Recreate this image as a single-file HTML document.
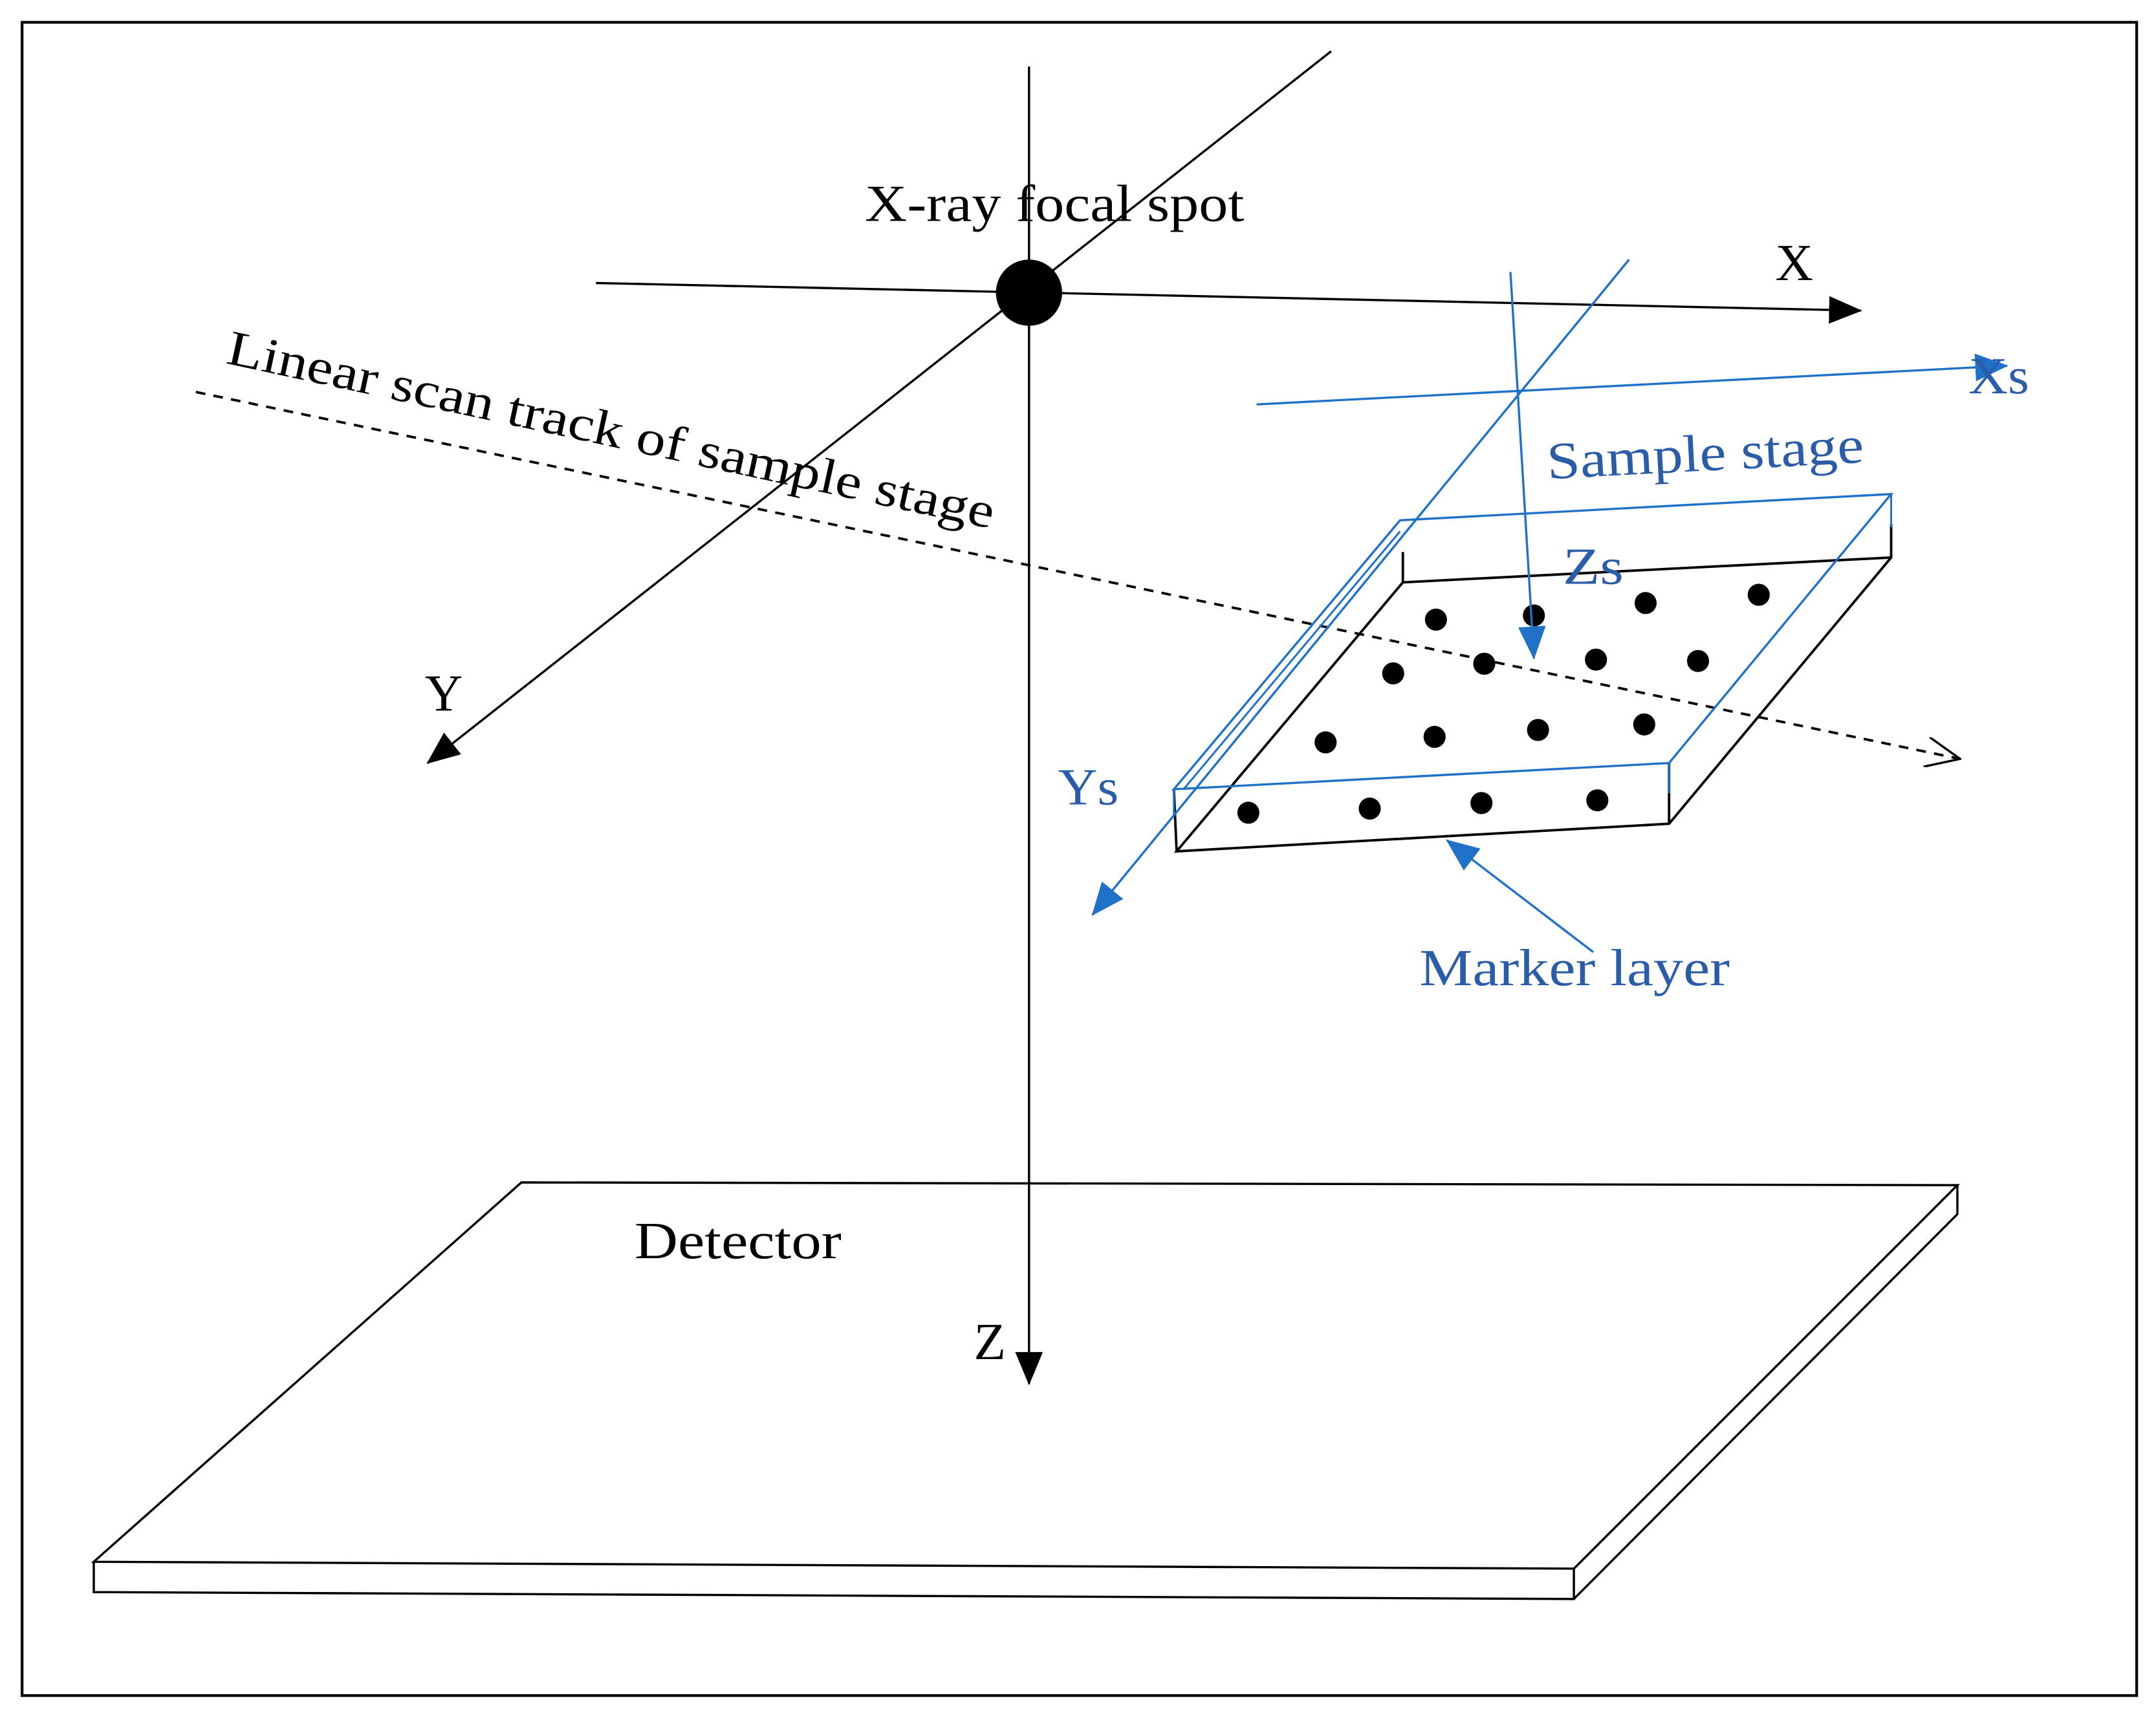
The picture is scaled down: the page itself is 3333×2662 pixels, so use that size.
<!DOCTYPE html>
<html><head><meta charset="utf-8"><style>
html,body{margin:0;padding:0;background:#fff}
svg{display:block}
text{font-family:"Liberation Serif",serif}
</style></head><body>
<svg width="3333" height="2662" viewBox="0 0 1563 1248" xmlns="http://www.w3.org/2000/svg">
<defs>
<marker id="abig" markerWidth="24" markerHeight="20" refX="23" refY="10" orient="auto" markerUnits="userSpaceOnUse" viewBox="0 0 24 20"><path d="M0,0 L24,10 L0,20 z" fill="#000"/></marker>
<marker id="aopen" markerWidth="26" markerHeight="22" refX="25" refY="11" orient="auto" markerUnits="userSpaceOnUse" viewBox="0 0 26 22"><path d="M0,0 L25,11 L0,22" fill="none" stroke="#000" stroke-width="1.6"/></marker>
<marker id="bl" markerWidth="24" markerHeight="20" refX="23" refY="10" orient="auto" markerUnits="userSpaceOnUse" viewBox="0 0 24 20"><path d="M0,0 L24,10 L0,20 z" fill="#1f72c8"/></marker>
</defs>
<rect x="16" y="16" width="1533" height="1213" fill="none" stroke="#000" stroke-width="2"/>
<polygon points="378,857 1419,859 1141,1137 68,1132" fill="#fff" stroke="#000" stroke-width="1.6"/>
<path d="M68,1132 L68,1154 L1141,1159 L1141,1137 M1141,1159 L1419,880 L1419,859" fill="none" stroke="#000" stroke-width="1.6"/>
<line x1="746" y1="48" x2="746" y2="1003" stroke="#000" stroke-width="1.6" marker-end="url(#abig)"/>
<line x1="432" y1="205" x2="1349" y2="225" stroke="#000" stroke-width="1.6" marker-end="url(#abig)"/>
<line x1="965" y1="37" x2="310" y2="553" stroke="#000" stroke-width="1.6" marker-end="url(#abig)"/>
<line x1="142" y1="284" x2="1421" y2="550" stroke="#000" stroke-width="1.8" stroke-dasharray="7,6" marker-end="url(#aopen)"/>
<circle cx="746" cy="212" r="24" fill="#000"/>
<text x="627" y="160" font-size="38" textLength="275" lengthAdjust="spacingAndGlyphs">X-ray focal spot</text>
<text x="1287" y="203" font-size="38">X</text>
<text x="308" y="515" font-size="38">Y</text>
<text x="706" y="985" font-size="38">Z</text>
<text x="460" y="912" font-size="38" textLength="150" lengthAdjust="spacingAndGlyphs">Detector</text>
<text transform="translate(163,263) rotate(12.2)" font-size="36" textLength="568" lengthAdjust="spacingAndGlyphs">Linear scan track of sample stage</text>
<path d="M1017,400 L1017,422 L1371,404 M1017,422 L853,617 L1210,597 L1371,404 L1371,380 M851,572 L853,617 M1210,553 L1210,597" fill="none" stroke="#000" stroke-width="1.8"/>
<polygon points="1015,377 1371,358 1210,553 851,572" fill="none" stroke="#1f72c8" stroke-width="1.6"/>
<path d="M1371,358 L1371,382 M851,572 L851,592 M1210,553 L1210,575 M1015,385 L858,572" fill="none" stroke="#1f72c8" stroke-width="1.4"/>
<g fill="#000">
<circle cx="1041" cy="449" r="8"/><circle cx="1112" cy="446" r="8"/><circle cx="1193" cy="437" r="8"/><circle cx="1275" cy="431" r="8"/>
<circle cx="1010" cy="488" r="8"/><circle cx="1076" cy="481" r="8"/><circle cx="1157" cy="478" r="8"/><circle cx="1231" cy="479" r="8"/>
<circle cx="961" cy="538" r="8"/><circle cx="1040" cy="534" r="8"/><circle cx="1115" cy="529" r="8"/><circle cx="1192" cy="525" r="8"/>
<circle cx="905" cy="589" r="8"/><circle cx="993" cy="586" r="8"/><circle cx="1074" cy="582" r="8"/><circle cx="1158" cy="580" r="8"/>
</g>
<line x1="911" y1="293" x2="1455" y2="265" stroke="#1f72c8" stroke-width="1.6" marker-end="url(#bl)"/>
<line x1="1095" y1="197" x2="1112" y2="477" stroke="#1f72c8" stroke-width="1.6" marker-end="url(#bl)"/>
<line x1="1181" y1="188" x2="792" y2="663" stroke="#1f72c8" stroke-width="1.6" marker-end="url(#bl)"/>
<line x1="1155" y1="690" x2="1049" y2="609" stroke="#1f72c8" stroke-width="1.6" marker-end="url(#bl)"/>
<g fill="#2a5ca8" font-size="38">
<text x="1427" y="285" textLength="44" lengthAdjust="spacingAndGlyphs">Xs</text>
<text transform="translate(1122,347) rotate(-3)" textLength="230" lengthAdjust="spacingAndGlyphs">Sample stage</text>
<text x="1133" y="423" textLength="44" lengthAdjust="spacingAndGlyphs">Zs</text>
<text x="767" y="583" textLength="44" lengthAdjust="spacingAndGlyphs">Ys</text>
<text x="1029" y="714" textLength="225" lengthAdjust="spacingAndGlyphs">Marker layer</text>
</g>
</svg>
</body></html>
